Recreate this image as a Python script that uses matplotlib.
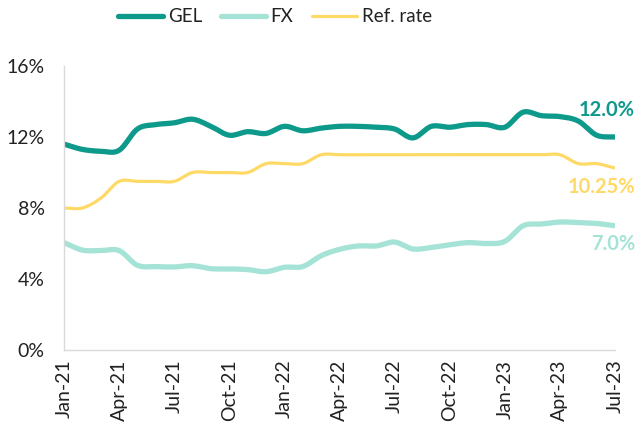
import numpy as np
import matplotlib
matplotlib.use("Agg")
import matplotlib.pyplot as plt
from matplotlib.lines import Line2D

months = ["Jan-21","Feb-21","Mar-21","Apr-21","May-21","Jun-21","Jul-21","Aug-21","Sep-21","Oct-21","Nov-21","Dec-21",
          "Jan-22","Feb-22","Mar-22","Apr-22","May-22","Jun-22","Jul-22","Aug-22","Sep-22","Oct-22","Nov-22","Dec-22",
          "Jan-23","Feb-23","Mar-23","Apr-23","May-23","Jun-23","Jul-23"]
gel = [11.6, 11.3, 11.2, 11.25, 12.45, 12.7, 12.8, 13.0, 12.6, 12.1, 12.3, 12.2,
       12.6, 12.35, 12.5, 12.6, 12.6, 12.55, 12.45, 11.95, 12.6, 12.55, 12.7, 12.7,
       12.55, 13.4, 13.2, 13.15, 12.9, 12.1, 12.0]
fx = [6.05, 5.63, 5.6, 5.6, 4.77, 4.7, 4.68, 4.75, 4.58, 4.57, 4.53, 4.41,
      4.66, 4.7, 5.31, 5.67, 5.86, 5.86, 6.08, 5.69, 5.78, 5.93, 6.05, 6.0,
      6.12, 7.0, 7.1, 7.21, 7.18, 7.13, 7.0]
ref = [8.0, 8.0, 8.55, 9.5, 9.5, 9.5, 9.5, 10.0, 10.0, 10.0, 10.0, 10.5,
       10.5, 10.5, 11.0, 11.0, 11.0, 11.0, 11.0, 11.0, 11.0, 11.0, 11.0, 11.0,
       11.0, 11.0, 11.0, 11.0, 10.5, 10.5, 10.25]
tick_labels = months[::3]
yticks = [0, 4, 8, 12, 16]
end_labels = ["12.0%", "10.25%", "7.0%"]

C_GEL = "#0e9a8a"
C_FX = "#a4e3d6"
C_REF = "#ffd966"

plt.rcParams['font.family'] = ['Lato', 'DejaVu Sans']

def smooth(y, n=12):
    y = np.asarray(y, float)
    x = np.arange(len(y), dtype=float)
    p = np.concatenate([[2*y[0]-y[1]], y, [2*y[-1]-y[-2]]])
    xs, ys = [], []
    for i in range(len(y)-1):
        p0, p1, p2, p3 = p[i], p[i+1], p[i+2], p[i+3]
        t = np.linspace(0, 1, n, endpoint=False)
        v = 0.5*((2*p1) + (-p0+p2)*t + (2*p0-5*p1+4*p2-p3)*t**2 + (-p0+3*p1-3*p2+p3)*t**3)
        xs.append(x[i]+t); ys.append(v)
    xs.append([x[-1]]); ys.append([y[-1]])
    return np.concatenate(xs), np.concatenate(ys)

fig = plt.figure(figsize=(6.38, 4.25), dpi=100)
ax = fig.add_axes([64/638, 75/425, (615-64)/638, (350-66)/425])

for data, col, lw in [(ref, C_REF, 2.3), (fx, C_FX, 3.8), (gel, C_GEL, 3.8)]:
    xs, ys = smooth(data)
    ax.plot(xs, ys, color=col, lw=lw, solid_capstyle='butt', solid_joinstyle='round')

ax.set_xlim(0, len(months)-1)
ax.set_ylim(0, 16)
ax.set_xticks(np.arange(0, len(months), 3))
ax.set_xticklabels(tick_labels, rotation=90, fontsize=14, color="#222222")
ax.set_yticks(yticks)
ax.set_yticklabels([f"{v}%" for v in yticks], fontsize=14, color="#222222")
ax.tick_params(axis='x', length=0, pad=7)
ax.tick_params(axis='y', length=0, pad=14)
for s in ["top", "right"]:
    ax.spines[s].set_visible(False)
for s in ["left", "bottom"]:
    ax.spines[s].set_color("#d9d9d9")
    ax.spines[s].set_linewidth(1.0)

ax.annotate(end_labels[0], xy=(635/638, (425-110)/425), xycoords='figure fraction',
            ha='right', va='center', fontsize=14.5, fontweight='bold', color=C_GEL)
ax.annotate(end_labels[1], xy=(635/638, (425-187)/425), xycoords='figure fraction',
            ha='right', va='center', fontsize=14.5, fontweight='bold', color=C_REF)
ax.annotate(end_labels[2], xy=(635/638, (425-244)/425), xycoords='figure fraction',
            ha='right', va='center', fontsize=14.5, fontweight='bold', color=C_FX)

handles = [Line2D([], [], color=C_GEL, lw=3.8, solid_capstyle='round'),
           Line2D([], [], color=C_FX, lw=3.8, solid_capstyle='round'),
           Line2D([], [], color=C_REF, lw=2.3, solid_capstyle='round')]
fig.legend(handles, ["GEL", "FX", "Ref. rate"], loc='center', bbox_to_anchor=(275/638, (425-17)/425),
           ncol=3, frameon=False, fontsize=13.5, handlelength=2.4, handletextpad=0.25, columnspacing=1.0,
           labelcolor="#222222")

fig.savefig("out.png", dpi=100)
